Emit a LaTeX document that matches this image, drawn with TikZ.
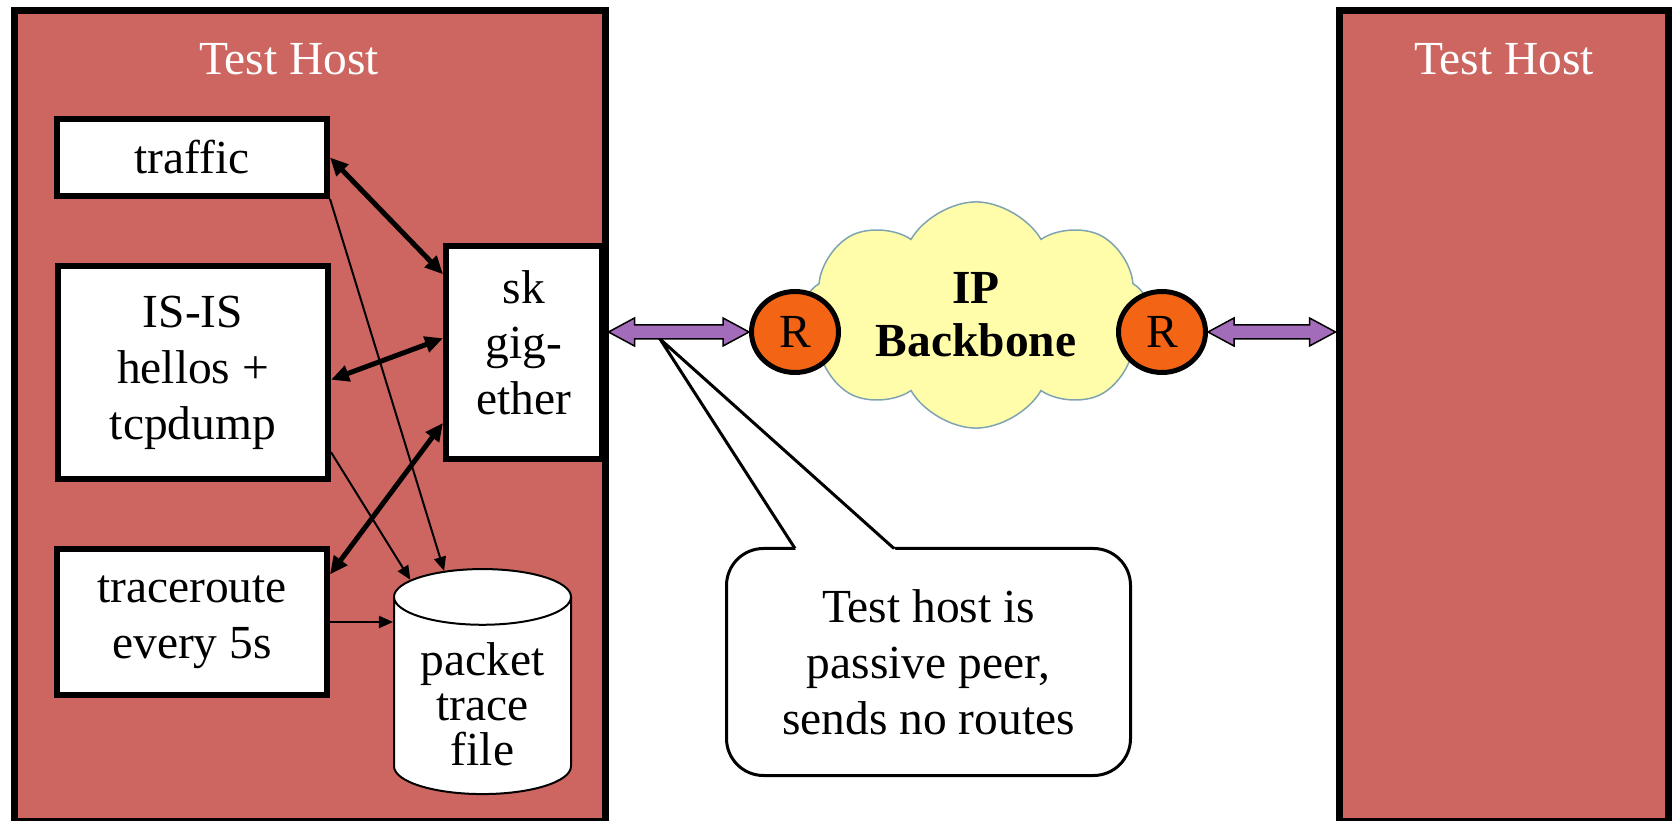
\documentclass[tikz,border=0pt]{standalone}
\usepackage{fontspec}
\setmainfont{Liberation Serif}
\usetikzlibrary{arrows.meta,calc,shapes.geometric,shapes.symbols}

\definecolor{hostred}{RGB}{205,102,96}
\definecolor{routerorange}{RGB}{243,101,20}
\definecolor{cloudyellow}{RGB}{255,253,170}
\definecolor{cloudline}{RGB}{127,163,176}
\definecolor{linkpurple}{RGB}{163,108,186}

% fat double-headed link between two points at the same height
\newcommand{\fatarrow}[2]{%
  \path[fatlink] (#1) -- ++(0.26,0.14) -- ++(0,-0.07) -- ($(#2)+(-0.26,0.07)$) -- ++(0,0.07)
    -- (#2) -- ++(-0.26,-0.14) -- ++(0,0.07) -- ($(#1)+(0.26,-0.07)$) -- ++(0,-0.07) -- cycle;}

\begin{document}
\begin{tikzpicture}[
    font=\fontsize{13.5}{15.9}\selectfont,
    host/.style={draw, line width=0.07cm, fill=hostred, inner sep=0},
    hosttitle/.style={text=white, anchor=base},
    proc/.style={draw, line width=0.06cm, fill=white, align=center, inner sep=0},
    router/.style={ellipse, draw, line width=0.05cm, fill=routerorange, inner sep=0,
      minimum width=0.87cm, minimum height=0.81cm},
    thick link/.style={line width=0.05cm,
      {Triangle[length=0.18cm,width=0.16cm]}-{Triangle[length=0.18cm,width=0.16cm]}},
    thin link/.style={line width=0.02cm, -{Triangle[length=0.14cm,width=0.12cm]}},
    fatlink/.style={draw=black, line width=0.015cm, fill=linkpurple, line join=miter},
  ]
  \useasboundingbox (0,0) rectangle (16.72,8.20);

  % the two hosts
  \node[host, minimum width=5.905cm, minimum height=8.10cm] (hostL) at (3.0975,4.04) {};
  \node[host, minimum width=3.295cm, minimum height=8.10cm] (hostR) at (15.0375,4.04) {};
  \node[hosttitle] (titleL) at (2.89,7.45) {Test Host};
  \node[hosttitle] (titleR) at (15.04,7.45) {Test Host};

  % processes on the left host
  \node[proc, minimum width=2.70cm, minimum height=0.77cm] (traffic) at (1.92,6.625) {traffic};
  \node[proc, minimum width=2.70cm, minimum height=2.13cm] (isis) at (1.93,4.475) {IS-IS\\hellos +\\tcpdump};
  \node[proc, minimum width=2.70cm, minimum height=1.46cm] (trace) at (1.92,1.98) {traceroute\\every 5s};
  \node[proc, minimum width=1.56cm, minimum height=2.13cm] (sk) at (5.24,4.675) {sk\\gig-\\ether\rule[-0.2cm]{0pt}{0pt}};
  \node[cylinder, shape border rotate=90, aspect=0.45, draw, line width=0.02cm, fill=white,
    align=center, inner sep=0, minimum width=1.77cm, minimum height=1.98cm,
    font=\fontsize{13.5}{12.8}\selectfont] (ptf) at (4.825,1.24) {\rule{0pt}{0.50cm}packet\\trace\\file};

  \draw[thick link] (traffic.east) -- (sk.136);
  \draw[thick link] (isis.-3) -- (sk.170);
  \draw[thick link] (trace.19) -- (sk.221);
  \draw[thin link] (traffic.south east) -- (ptf);
  \draw[thin link] (isis.-30) -- (ptf);
  \draw[thin link] (trace.east) -- (trace.east -| ptf.180);

  % backbone
  \node[cloud, cloud puffs=8, cloud puff arc=120, aspect=1.6, draw=cloudline, line width=0.015cm,
    fill=cloudyellow, minimum width=3.5cm, minimum height=2.2cm, inner sep=0, align=center,
    font=\bfseries\fontsize{13.5}{15.1}\selectfont] (net) at (9.76,5.05) {IP\\Backbone};
  \node[router] (rL) at (7.95,4.88) {R};
  \node[router] (rR) at (11.62,4.88) {R};

  % callout
  \node[draw, line width=0.03cm, rounded corners=0.37cm, fill=white, minimum width=4.04cm,
    minimum height=2.27cm, align=center, inner sep=0] (note) at (9.285,1.58) {Test host is\\passive peer,\\sends no routes};
  \coordinate (tip) at (6.60,4.81);
  \coordinate (baseL) at (7.95,2.715);
  \coordinate (baseR) at (8.94,2.715);
  \fill[white] (tip) -- ($(tip)!1.03!(baseL)$) -- ($(tip)!1.03!(baseR)$) -- cycle;
  \draw[line width=0.03cm] (baseL) -- (tip) -- (baseR);

  % links to the routers
  \coordinate (portL) at (hostL.east |- rL.west);
  \coordinate (portR) at (hostR.west |- rR.east);
  \fatarrow{portL}{rL.west}
  \fatarrow{rR.east}{portR}
\end{tikzpicture}
\end{document}
